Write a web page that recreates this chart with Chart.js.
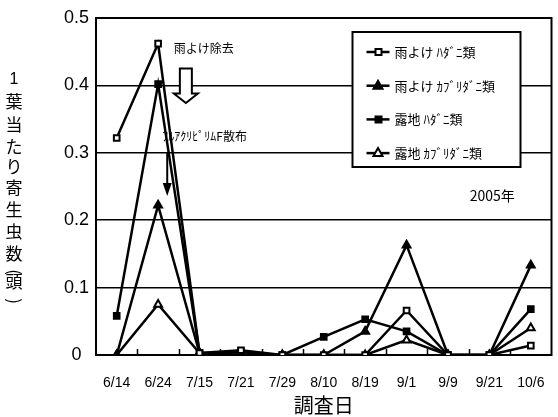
<!DOCTYPE html>
<html><head><meta charset="utf-8">
<script src="https://cdn.jsdelivr.net/npm/chart.js@4"></script>
<style>html,body{margin:0;padding:0;background:#fff}</style>
</head><body>
<canvas id="c" width="558" height="417"></canvas>
<script>
const categories = ["6/14","6/24","7/15","7/21","7/29","8/10","8/19","9/1","9/9","9/21","10/6"];
const rainHadani = [0.322,0.462,0.003,0.007,0,0,0,0.066,0,0,0.014];
const rainKaburi = [0,0.222,0.003,0,0,0,0.035,0.163,0,0,0.133];
const openHadani = [0.058,0.402,0.003,0.004,0,0.027,0.053,0.035,0,0,0.068];
const openKaburi = [0,0.075,0.003,0,0,0,0,0.022,0,0,0.040];
const seriesLabels = ["雨よけ ﾊﾀﾞﾆ類","雨よけ ｶﾌﾞﾘﾀﾞﾆ類","露地 ﾊﾀﾞﾆ類","露地 ｶﾌﾞﾘﾀﾞﾆ類"];
const yTickLabels = ["0","0.1","0.2","0.3","0.4","0.5"];
const yTitleChars = ["1","葉","当","た","り","寄","生","虫","数","(","頭",")"];
const xTitle = "調査日";
const yearNote = "2005年";
const noteRemoval = "雨よけ除去";
const noteSpray = "ﾌﾙｱｸﾘﾋﾟﾘﾑF散布";

const JP = '"Noto Sans CJK JP", "Noto Sans", sans-serif';
const LAT = '"Liberation Sans", Arial, sans-serif';

function ds(label, data, style, fill){
  return {label, data, borderColor:'#000', borderWidth:2.5, tension:0,
    pointStyle:style, pointRadius: style==='triangle'?4.5:4, pointBorderWidth:2,
    pointBackgroundColor:fill, pointBorderColor:'#000', fill:false};
}

const decor = {
  id:'decor',
  beforeDatasetsDraw(chart){
    const {ctx, chartArea:a, scales:{x}} = chart;
    ctx.save();
    ctx.strokeStyle='#000'; ctx.lineWidth=1.5;
    const step = x.getPixelForValue(1)-x.getPixelForValue(0);
    for(let i=0;i<categories.length-1;i++){
      const xx = Math.round(x.getPixelForValue(i)+step/2)+0.5;
      ctx.beginPath(); ctx.moveTo(xx,a.bottom); ctx.lineTo(xx,a.bottom-6); ctx.stroke();
    }
    ctx.lineWidth=2;
    ctx.strokeRect(a.left, a.top, a.right-a.left, a.bottom-a.top);
    ctx.restore();
  },
  afterDatasetsDraw(chart){
    const {ctx, chartArea:a, scales:{x,y}} = chart;
    ctx.save();
    // legend
    const lx = a.right-199, ly = a.top+14, lw = 168, lh = 135;
    ctx.fillStyle='#fff'; ctx.fillRect(lx,ly,lw,lh);
    ctx.strokeStyle='#000'; ctx.lineWidth=2; ctx.strokeRect(lx,ly,lw,lh);
    chart.data.datasets.forEach((d,i)=>{
      const cy = ly+20+i*33.7;
      ctx.strokeStyle='#000'; ctx.lineWidth=2.5;
      ctx.beginPath(); ctx.moveTo(lx+14,cy); ctx.lineTo(lx+37,cy); ctx.stroke();
      ctx.fillStyle=d.pointBackgroundColor; ctx.strokeStyle='#000'; ctx.lineWidth=2;
      ctx.beginPath();
      if(d.pointStyle==='rect'){ ctx.rect(lx+23,cy-3,6,6);} else { ctx.moveTo(lx+25.5,cy-5); ctx.lineTo(lx+30,cy+3); ctx.lineTo(lx+21,cy+3); ctx.closePath(); }
      ctx.fill(); ctx.stroke();
      ctx.fillStyle='#000'; ctx.font='13px '+JP; ctx.textAlign='left'; ctx.textBaseline='middle';
      ctx.fillText(d.label, lx+42, cy);
    });
    // notes
    ctx.fillStyle='#000'; ctx.font='12px '+JP; ctx.textBaseline='middle'; ctx.textAlign='left';
    ctx.fillText(noteRemoval, x.getPixelForValue(1.38), y.getPixelForValue(0.455));
    ctx.fillText(noteSpray, x.getPixelForValue(1.10), y.getPixelForValue(0.325));
    ctx.textAlign='center'; ctx.font='14px '+JP;
    ctx.fillText(yearNote, x.getPixelForValue(9.07), y.getPixelForValue(0.236));
    // open arrow
    const ax = x.getPixelForValue(1.67);
    const y0 = y.getPixelForValue(0.425), y1 = y.getPixelForValue(0.388), y2 = y.getPixelForValue(0.374);
    ctx.fillStyle='#fff'; ctx.strokeStyle='#000'; ctx.lineWidth=2;
    ctx.beginPath();
    ctx.moveTo(ax-6,y0); ctx.lineTo(ax+6,y0); ctx.lineTo(ax+6,y1); ctx.lineTo(ax+12,y1);
    ctx.lineTo(ax,y2); ctx.lineTo(ax-12,y1); ctx.lineTo(ax-6,y1); ctx.closePath();
    ctx.fill(); ctx.stroke();
    // thin arrow
    const tx = x.getPixelForValue(1.22);
    const t0 = y.getPixelForValue(0.300), t1 = y.getPixelForValue(0.236);
    ctx.lineWidth=2; ctx.beginPath(); ctx.moveTo(tx,t0); ctx.lineTo(tx,t1-10); ctx.stroke();
    ctx.fillStyle='#000'; ctx.beginPath(); ctx.moveTo(tx-4.5,t1-13); ctx.lineTo(tx+4.5,t1-13); ctx.lineTo(tx,t1); ctx.closePath(); ctx.fill();
    // y title
    const ys = [80,102,125,147,167,188,210,232,254,272,282,301];
    ctx.textAlign='center'; ctx.textBaseline='middle';
    yTitleChars.forEach((c,i)=>{
      if(c==='(' || c===')'){
        ctx.save(); ctx.translate(14, ys[i]); ctx.rotate(Math.PI/2);
        ctx.font='17px '+JP; ctx.fillText(c,0,0); ctx.restore();
        return;
      }
      ctx.font = (i===0? '16px '+LAT : '17px '+JP);
      ctx.fillText(c, 14, ys[i]);
    });
    ctx.restore();
  }
};

new Chart(document.getElementById('c'), {
  type:'line',
  data:{ labels:categories, datasets:[
    ds(seriesLabels[0], rainHadani, 'rect', '#fff'),
    ds(seriesLabels[1], rainKaburi, 'triangle', '#000'),
    ds(seriesLabels[2], openHadani, 'rect', '#000'),
    ds(seriesLabels[3], openKaburi, 'triangle', '#fff')
  ]},
  options:{
    responsive:false, animation:false, devicePixelRatio:1,
    layout:{padding:{left:30,right:1,top:18,bottom:0}},
    plugins:{legend:{display:false}, tooltip:{enabled:false}},
    scales:{
      x:{ offset:true,
        grid:{display:false}, border:{display:false},
        ticks:{color:'#000', font:{family:LAT, size:14}, padding:12, maxRotation:0, autoSkip:false},
        title:{display:true, text:xTitle, color:'#000', font:{family:JP, size:20}, padding:{top:0,bottom:0}},
        afterFit(s){ s.height = 62; }
      },
      y:{ min:0, max:0.5,
        grid:{color:'#000', lineWidth:1.5, drawTicks:false}, border:{display:false},
        ticks:{stepSize:0.1, color:'#000', font:{family:LAT, size:18}, padding:7, crossAlign:'center',
          callback:(v,i)=>yTickLabels[i]},
        afterFit(s){ s.width = 66; }
      }
    }
  },
  plugins:[decor]
});
</script>
</body></html>
